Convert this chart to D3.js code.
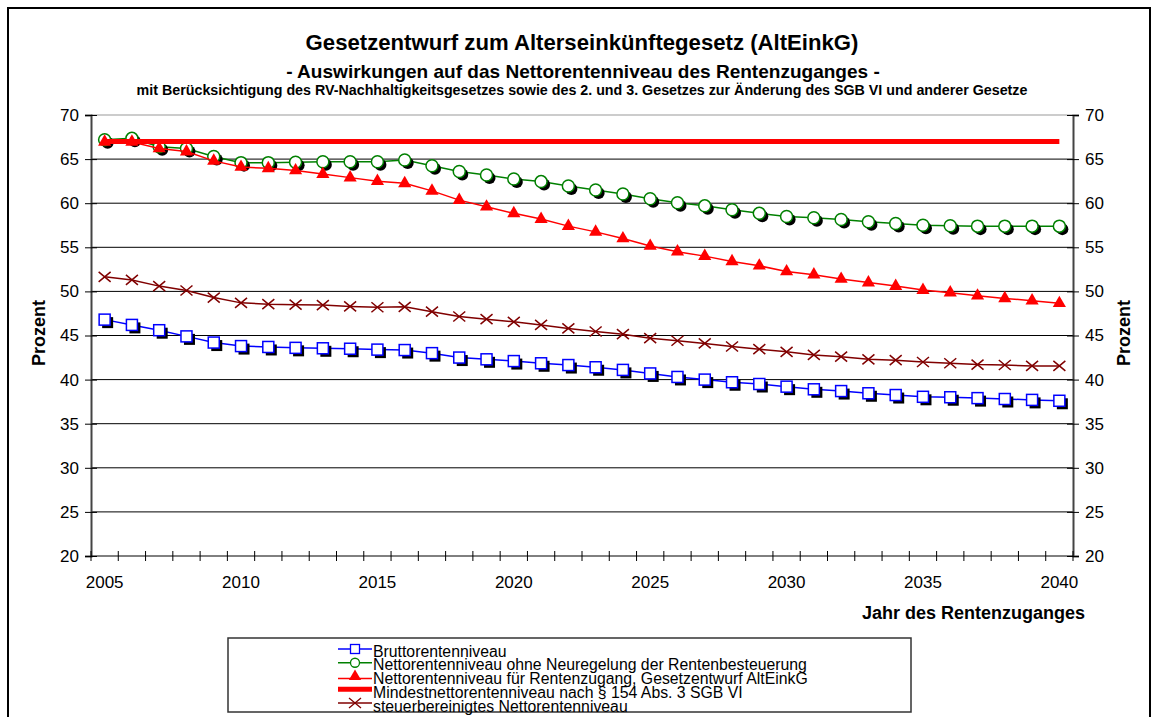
<!DOCTYPE html>
<html>
<head>
<meta charset="utf-8">
<script src="https://cdn.jsdelivr.net/npm/d3@7"></script>
<style>
  body { margin: 0; background: #fff; }
  svg { display: block; font-family: Arial, "Liberation Sans", sans-serif; }
</style>
</head>
<body>
<svg id="chart" width="1157" height="717"></svg>
<script>
// years on the category axis
const years = d3.range(2005, 2041)
const yTicks = [20, 25, 30, 35, 40, 45, 50, 55, 60, 65, 70]

// Bruttorentenniveau
const brutto = [46.8, 46.2, 45.6, 44.9, 44.2, 43.8, 43.7, 43.6, 43.55, 43.5, 43.4, 43.35, 43.0, 42.5,
  42.3, 42.1, 41.85, 41.65, 41.4, 41.1, 40.7, 40.3, 40.0, 39.7, 39.5, 39.2, 38.9, 38.7, 38.45,
  38.25, 38.05, 38.0, 37.9, 37.8, 37.7, 37.6]
// Nettorentenniveau ohne Neuregelung der Rentenbesteuerung
const nettoOhne = [67.2, 67.35, 66.4, 66.2, 65.3, 64.6, 64.6, 64.65, 64.7, 64.7, 64.7, 64.9, 64.25, 63.6,
  63.2, 62.75, 62.45, 61.95, 61.5, 61.05, 60.5, 60.05, 59.7, 59.25, 58.85, 58.5, 58.35, 58.15, 57.9,
  57.7, 57.5, 57.45, 57.4, 57.4, 57.4, 57.4]
// Nettorentenniveau für Rentenzugang, Gesetzentwurf AltEinkG
const nettoAltEinkG = [66.95, 66.95, 66.2, 65.85, 64.8, 64.1, 63.95, 63.7, 63.3, 62.9, 62.5, 62.25, 61.4, 60.35,
  59.6, 58.85, 58.2, 57.4, 56.75, 56.0, 55.15, 54.5, 54.0, 53.4, 52.9, 52.25, 51.9, 51.4, 51.0,
  50.6, 50.15, 49.85, 49.5, 49.2, 48.95, 48.65]
// Mindestnettorentenniveau nach § 154 Abs. 3 SGB VI
const mindest = years.map(() => 67)
// steuerbereinigtes Nettorentenniveau
const steuerbereinigt = [51.65, 51.3, 50.6, 50.1, 49.3, 48.7, 48.55, 48.5, 48.45, 48.3, 48.2, 48.25, 47.7, 47.15,
  46.85, 46.55, 46.2, 45.8, 45.45, 45.15, 44.7, 44.4, 44.1, 43.75, 43.45, 43.15, 42.8, 42.6, 42.3,
  42.2, 42.0, 41.85, 41.7, 41.65, 41.55, 41.55]

const legendLabels = [
  "Bruttorentenniveau",
  "Nettorentenniveau ohne Neuregelung der Rentenbesteuerung",
  "Nettorentenniveau für Rentenzugang, Gesetzentwurf AltEinkG",
  "Mindestnettorentenniveau nach § 154 Abs. 3 SGB VI",
  "steuerbereinigtes Nettorentenniveau"
]

const svg = d3.select("#chart")

const plot = { left: 91, right: 1073, top: 115, bottom: 556 }

const x = d3.scaleBand().domain(years).range([plot.left, plot.right]).padding(0)
const y = d3.scaleLinear().domain([20, 70]).range([plot.bottom, plot.top])
const cx = d => x(d) + x.bandwidth() / 2

// fit a text to a target width by scaling its font size
const fitText = (sel, width) => {
  const w = sel.node().getComputedTextLength()
  const size = parseFloat(sel.attr("font-size"))
  sel.attr("font-size", (size * width / w).toFixed(2))
}

// outer border
svg.append("rect")
  .attr("x", 8).attr("y", 8).attr("width", 1142).attr("height", 730)
  .attr("fill", "none").attr("stroke", "#000").attr("stroke-width", 2)

// titles
const t1 = svg.append("text").attr("x", 582).attr("y", 50).attr("text-anchor", "middle")
  .attr("font-weight", "bold").attr("font-size", 22)
  .text("Gesetzentwurf zum Alterseinkünftegesetz (AltEinkG)")
fitText(t1, 553)
const t2 = svg.append("text").attr("x", 583).attr("y", 78).attr("text-anchor", "middle")
  .attr("font-weight", "bold").attr("font-size", 18)
  .text("- Auswirkungen auf das Nettorentenniveau des Rentenzuganges -")
fitText(t2, 594)
const t3 = svg.append("text").attr("x", 582).attr("y", 95).attr("text-anchor", "middle")
  .attr("font-weight", "bold").attr("font-size", 12)
  .text("mit Berücksichtigung des RV-Nachhaltigkeitsgesetzes sowie des 2. und 3. Gesetzes zur Änderung des SGB VI und anderer Gesetze")
fitText(t3, 891)

// gridlines
svg.append("g")
  .selectAll("line")
  .data(yTicks.filter(v => v > 20))
  .enter()
  .append("line")
    .attr("x1", plot.left).attr("x2", plot.right)
    .attr("y1", d => y(d)).attr("y2", d => y(d))
    .attr("stroke", d => d === 70 ? "#999" : "#000")
    .attr("stroke-width", 1)

// left axis
const leftAxis = svg.append("g")
  .attr("transform", `translate(${plot.left},0)`)
  .call(d3.axisLeft(y).tickValues(yTicks).tickSize(6).tickPadding(6))
leftAxis.select(".domain").attr("stroke", "#444").attr("stroke-width", 2)
leftAxis.selectAll(".tick line").attr("x1", 6).attr("stroke", "#000")
leftAxis.selectAll(".tick text").attr("font-size", 17).attr("fill", "#000")
  .attr("font-family", "Arial, 'Liberation Sans', sans-serif")

// right axis
const rightAxis = svg.append("g")
  .attr("transform", `translate(${plot.right},0)`)
  .call(d3.axisRight(y).tickValues(yTicks).tickSize(6).tickPadding(6))
rightAxis.select(".domain").attr("stroke", "#444").attr("stroke-width", 2)
rightAxis.selectAll(".tick line").attr("x1", -6).attr("stroke", "#000")
rightAxis.selectAll(".tick text").attr("font-size", 17).attr("fill", "#000")
  .attr("font-family", "Arial, 'Liberation Sans', sans-serif")

// bottom axis: ticks at category boundaries, labels every 5 years
const bottom = svg.append("g").attr("transform", `translate(0,${plot.bottom})`)
bottom.append("line").attr("x1", plot.left).attr("x2", plot.right)
  .attr("stroke", "#000").attr("stroke-width", 1)
bottom.selectAll("line.tick")
  .data(years.concat([2041]))
  .enter()
  .append("line")
    .classed("tick", true)
    .attr("x1", d => d === 2041 ? plot.right : x(d)).attr("x2", d => d === 2041 ? plot.right : x(d))
    .attr("y1", -5).attr("y2", 5)
    .attr("stroke", "#000")
bottom.selectAll("text")
  .data(years.filter(d => d % 5 === 0))
  .enter()
  .append("text")
    .attr("x", cx).attr("y", 32)
    .attr("text-anchor", "middle").attr("font-size", 17)
    .text(d => d)

// axis titles
svg.append("text").attr("transform", "translate(45,333) rotate(-90)")
  .attr("text-anchor", "middle").attr("font-weight", "bold").attr("font-size", 18)
  .text("Prozent")
svg.append("text").attr("transform", "translate(1130,333) rotate(-90)")
  .attr("text-anchor", "middle").attr("font-weight", "bold").attr("font-size", 18)
  .text("Prozent")
svg.append("text").attr("x", 1085).attr("y", 619)
  .attr("text-anchor", "end").attr("font-weight", "bold").attr("font-size", 18)
  .text("Jahr des Rentenzuganges")

// series
const line = values => d3.line().x((d, i) => cx(years[i])).y(d => y(d))(values)

const triangle = d3.symbol().type(d3.symbolTriangle).size(75)
const cross = "M-6,-5L6,5M-6,5L6,-5"

// Bruttorentenniveau
const gBrutto = svg.append("g")
gBrutto.append("path").attr("d", line(brutto)).attr("fill", "none").attr("stroke", "#0000ff").attr("stroke-width", 1.5)
gBrutto.selectAll("rect.shadow").data(brutto).enter().append("rect")
  .attr("x", (d, i) => cx(years[i]) - 5.5 + 3).attr("y", d => y(d) - 5.5 + 3)
  .attr("width", 11).attr("height", 11).attr("fill", "#000")
gBrutto.selectAll("rect.mark").data(brutto).enter().append("rect")
  .attr("x", (d, i) => cx(years[i]) - 5.5).attr("y", d => y(d) - 5.5)
  .attr("width", 11).attr("height", 11).attr("fill", "#fff").attr("stroke", "#0000ff").attr("stroke-width", 1.5)

// Nettorentenniveau ohne Neuregelung
const gOhne = svg.append("g")
gOhne.append("path").attr("d", line(nettoOhne)).attr("fill", "none").attr("stroke", "#008000").attr("stroke-width", 1.5)
gOhne.selectAll("circle.shadow").data(nettoOhne).enter().append("circle")
  .attr("cx", (d, i) => cx(years[i]) + 3).attr("cy", d => y(d) + 3).attr("r", 6).attr("fill", "#000")
gOhne.selectAll("circle.mark").data(nettoOhne).enter().append("circle")
  .attr("cx", (d, i) => cx(years[i])).attr("cy", d => y(d)).attr("r", 6)
  .attr("fill", "#fff").attr("stroke", "#008000").attr("stroke-width", 1.5)

// Mindestnettorentenniveau
svg.append("path").attr("d", line(mindest)).attr("fill", "none").attr("stroke", "#ff0000").attr("stroke-width", 5)

// Nettorentenniveau AltEinkG
const gAlt = svg.append("g")
gAlt.append("path").attr("d", line(nettoAltEinkG)).attr("fill", "none").attr("stroke", "#ff0000").attr("stroke-width", 1.5)
gAlt.selectAll("path.mark").data(nettoAltEinkG).enter().append("path")
  .attr("d", triangle)
  .attr("transform", (d, i) => `translate(${cx(years[i])},${y(d)})`)
  .attr("fill", "#ff0000")

// steuerbereinigtes Nettorentenniveau
const gSteuer = svg.append("g")
gSteuer.append("path").attr("d", line(steuerbereinigt)).attr("fill", "none").attr("stroke", "#800000").attr("stroke-width", 1.5)
gSteuer.selectAll("path.mark").data(steuerbereinigt).enter().append("path")
  .attr("d", cross)
  .attr("transform", (d, i) => `translate(${cx(years[i])},${y(d)})`)
  .attr("stroke", "#800000").attr("stroke-width", 1.5).attr("fill", "none")

// legend
const legend = svg.append("g")
legend.append("rect").attr("x", 228).attr("y", 638).attr("width", 683).attr("height", 74)
  .attr("fill", "#fff").attr("stroke", "#333").attr("stroke-width", 1.5)

const rowY = d3.scaleLinear().domain([0, 4]).range([651, 706])
const symX = 355
legendLabels.forEach((label, i) => {
  legend.append("text").attr("x", 373).attr("y", rowY(i) + 5.5).attr("font-size", 15.8).text(label)
})
// legend symbols
legend.append("line").attr("x1", symX - 17).attr("x2", symX + 17).attr("y1", rowY(0) - 2).attr("y2", rowY(0) - 2)
  .attr("stroke", "#0000ff").attr("stroke-width", 1.5)
legend.append("rect").attr("x", symX - 4.5).attr("y", rowY(0) - 6.5).attr("width", 9).attr("height", 9)
  .attr("fill", "#fff").attr("stroke", "#0000ff").attr("stroke-width", 1.3)
legend.append("line").attr("x1", symX - 17).attr("x2", symX + 17).attr("y1", rowY(1) - 2).attr("y2", rowY(1) - 2)
  .attr("stroke", "#008000").attr("stroke-width", 1.5)
legend.append("circle").attr("cx", symX).attr("cy", rowY(1) - 2).attr("r", 4.5)
  .attr("fill", "#fff").attr("stroke", "#008000").attr("stroke-width", 1.3)
legend.append("line").attr("x1", symX - 17).attr("x2", symX + 17).attr("y1", rowY(2)).attr("y2", rowY(2))
  .attr("stroke", "#ff0000").attr("stroke-width", 1.5)
legend.append("path").attr("d", d3.symbol().type(d3.symbolTriangle).size(65))
  .attr("transform", `translate(${symX},${rowY(2) - 2})`).attr("fill", "#ff0000")
legend.append("line").attr("x1", symX - 17).attr("x2", symX + 17).attr("y1", rowY(3) - 3).attr("y2", rowY(3) - 3)
  .attr("stroke", "#ff0000").attr("stroke-width", 5)
legend.append("line").attr("x1", symX - 17).attr("x2", symX + 17).attr("y1", rowY(4) - 3).attr("y2", rowY(4) - 3)
  .attr("stroke", "#800000").attr("stroke-width", 1.5)
legend.append("path").attr("d", "M-6,-5L6,5M-6,5L6,-5")
  .attr("transform", `translate(${symX},${rowY(4) - 3})`)
  .attr("stroke", "#800000").attr("stroke-width", 1.3).attr("fill", "none")
</script>
</body>
</html>
